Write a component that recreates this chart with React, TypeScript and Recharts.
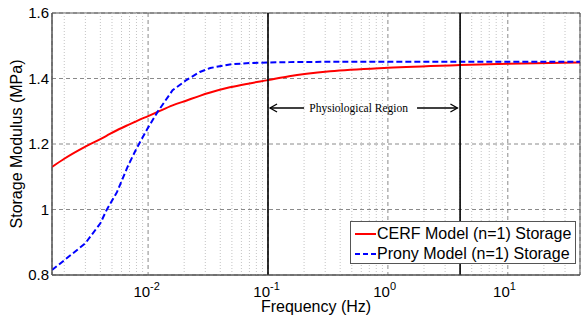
import React from 'react';
import {
  LineChart,
  Line,
  XAxis,
  YAxis,
  CartesianGrid,
  ReferenceLine,
  ReferenceArea,
  ReferenceDot,
  Legend,
} from 'recharts';

// frequency samples (Hz) shared by both curves
const frequencies = [
  0.00158, 0.002, 0.003, 0.004, 0.0045, 0.0055, 0.0067, 0.0078, 0.0086, 0.01, 0.012, 0.016,
  0.021, 0.027, 0.033, 0.048, 0.07, 0.1, 0.15, 0.33, 1, 4, 10, 40,
];
const cerfStorage = [
  1.13, 1.155, 1.192, 1.215, 1.225, 1.242, 1.257, 1.268, 1.275, 1.285, 1.298, 1.318,
  1.333, 1.347, 1.357, 1.373, 1.385, 1.395, 1.407, 1.422, 1.433, 1.441, 1.445, 1.449,
];
const pronyStorage = [
  0.815, 0.845, 0.897, 0.958, 0.998, 1.053, 1.128, 1.178, 1.207, 1.25, 1.298, 1.364,
  1.396, 1.42, 1.432, 1.443, 1.447, 1.449, 1.45, 1.451, 1.451, 1.451, 1.451, 1.451,
];

const xDomain = [0.00158, 40];
const yDomain = [0.8, 1.6];
const xMajorTicks = [0.01, 0.1, 1, 10];
const xTickExponents = ['-2', '-1', '0', '1'];
const yTicks = [0.8, 1, 1.2, 1.4, 1.6];
const decades = [0.001, 0.01, 0.1, 1, 10];
const minorSteps = [2, 3, 4, 5, 6, 7, 8, 9];
const regionBounds = [0.1, 4];
const regionLabel = 'Physiological Region';
const regionLabelAt = { x: 0.57, y: 1.31 };
const leftArrow = [0.104, 0.2];
const rightArrow = [1.75, 3.8];

const minorTicks = decades
  .flatMap((d) => minorSteps.map((m) => +(d * m).toPrecision(3)))
  .filter((v) => v > xDomain[0] && v < xDomain[1]);

const data = frequencies.map((f, i) => ({ f, cerf: cerfStorage[i], prony: pronyStorage[i] }));

const SANS = 'Arial, "Liberation Sans", sans-serif';
const SERIF = '"Times New Roman", "Liberation Serif", serif';

const PowerTick = (props: any) => {
  const { x, y, index } = props;
  return (
    <g>
      <text x={x + 2} y={y + 22} textAnchor="end" fontSize={15} fontFamily={SANS} fill="#000">
        10
      </text>
      <text x={x + 2} y={y + 15} textAnchor="start" fontSize={11} fontFamily={SANS} fill="#000">
        {xTickExponents[index]}
      </text>
    </g>
  );
};

const arrowShape = (dir: 'left' | 'right') => (props: any) => {
  const { x1, y1, x2, y2 } = props;
  const tip = dir === 'left' ? Math.min(x1, x2) : Math.max(x1, x2);
  const s = dir === 'left' ? 1 : -1;
  return (
    <g>
      <line x1={x1} y1={y1} x2={x2} y2={y2} stroke="#000" strokeWidth={1.3} />
      <polyline
        points={`${tip + s * 7},${y1 - 4} ${tip},${y1} ${tip + s * 7},${y1 + 4}`}
        fill="none"
        stroke="#000"
        strokeWidth={1.3}
      />
    </g>
  );
};

const rowStyle: React.CSSProperties = { display: 'flex', alignItems: 'center', height: 20, paddingLeft: 4 };

const LegendBox = () => (
  <div
    style={{
      width: 224,
      height: 39,
      border: '1px solid #555',
      background: '#fff',
      fontFamily: SANS,
      fontSize: 16,
      color: '#000',
      paddingTop: 2,
      boxSizing: 'content-box',
      whiteSpace: 'nowrap',
    }}
  >
    <div style={rowStyle}>
      <svg width={22} height={20}>
        <line x1={0} y1={10} x2={21} y2={10} stroke="#ff0000" strokeWidth={2} />
      </svg>
      <span style={{ lineHeight: '20px' }}>CERF Model (n=1) Storage</span>
    </div>
    <div style={rowStyle}>
      <svg width={22} height={20}>
        <line x1={0} y1={10} x2={21} y2={10} stroke="#0000ff" strokeWidth={2} strokeDasharray="5 3" />
      </svg>
      <span style={{ lineHeight: '20px' }}>Prony Model (n=1) Storage</span>
    </div>
  </div>
);

export default function App() {
  return (
    <div style={{ position: 'absolute', left: 0, top: 0, background: '#fff' }}>
      <LineChart
        width={581}
        height={321}
        data={data}
        margin={{ top: 13, right: 1, bottom: 0, left: 0 }}
        style={{ fontFamily: SANS }}
      >
        <CartesianGrid stroke="#8a8a8a" strokeDasharray="4 3" />
        {minorTicks.map((v) => (
          <ReferenceLine key={v} x={v} stroke="#c4c4c4" strokeDasharray="1 2" />
        ))}
        <XAxis
          dataKey="f"
          type="number"
          scale="log"
          domain={xDomain}
          allowDataOverflow
          ticks={xMajorTicks}
          height={46}
          tickSize={0}
          tickMargin={0}
          axisLine={{ stroke: '#555' }}
          tick={<PowerTick />}
          label={{
            value: 'Frequency (Hz)',
            position: 'insideBottom',
            offset: 9,
            fontSize: 16,
            fill: '#000',
            fontFamily: SANS,
          }}
        />
        <YAxis
          type="number"
          domain={yDomain}
          ticks={yTicks}
          width={52}
          tickSize={0}
          tickMargin={3}
          axisLine={{ stroke: '#555' }}
          tick={{ fontSize: 15, fill: '#000', fontFamily: SANS }}
          label={{
            value: 'Storage Modulus (MPa)',
            angle: -90,
            position: 'insideLeft',
            offset: 16,
            fontSize: 16,
            fill: '#000',
            fontFamily: SANS,
            style: { textAnchor: 'middle' },
          }}
        />
        <ReferenceArea x1={xDomain[0]} x2={xDomain[1]} y1={yDomain[0]} y2={yDomain[1]} fill="none" stroke="#555" />
        <Line
          type="monotone"
          dataKey="cerf"
          stroke="#ff0000"
          strokeWidth={2}
          dot={false}
          isAnimationActive={false}
        />
        <Line
          type="linear"
          dataKey="prony"
          stroke="#0000ff"
          strokeWidth={2}
          strokeDasharray="6 3"
          dot={false}
          isAnimationActive={false}
        />
        {regionBounds.map((v) => (
          <ReferenceLine key={'r' + v} x={v} stroke="#000" strokeWidth={1.6} />
        ))}
        <ReferenceLine
          segment={[
            { x: leftArrow[0], y: regionLabelAt.y },
            { x: leftArrow[1], y: regionLabelAt.y },
          ]}
          shape={arrowShape('left')}
        />
        <ReferenceLine
          segment={[
            { x: rightArrow[0], y: regionLabelAt.y },
            { x: rightArrow[1], y: regionLabelAt.y },
          ]}
          shape={arrowShape('right')}
        />
        <ReferenceDot
          x={regionLabelAt.x}
          y={regionLabelAt.y}
          r={0}
          fill="none"
          stroke="none"
          label={{
            value: regionLabel,
            position: 'center',
            fontSize: 11.5,
            fill: '#000',
            fontFamily: SERIF,
          }}
        />
        <Legend
          layout="horizontal"
          verticalAlign="middle"
          align="center"
          content={<LegendBox />}
          wrapperStyle={{ position: 'absolute', left: 350, top: 221, width: 226 }}
        />
      </LineChart>
    </div>
  );
}
